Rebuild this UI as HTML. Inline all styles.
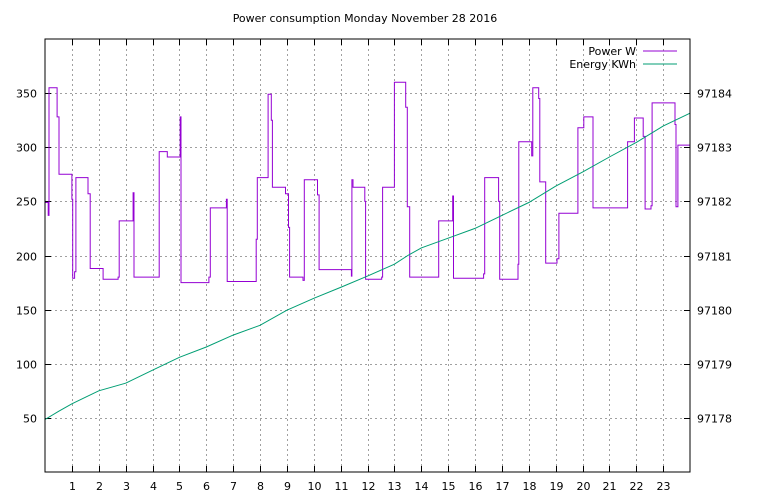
<!DOCTYPE html>
<html><head><meta charset="utf-8"><style>
html,body{margin:0;padding:0;background:#fff;}
svg{display:block;font-family:"DejaVu Sans","Liberation Sans",sans-serif;font-size:11px;}
</style></head><body>
<svg id="chart" width="768" height="500" viewBox="0 0 768 500" xmlns="http://www.w3.org/2000/svg">
<rect width="768" height="500" fill="#fff"/>
<text x="365" y="22" text-anchor="middle">Power consumption Monday November 28 2016</text>
<g id="grid"></g>
<g id="axes"></g>
<g id="series"></g>
<rect x="45" y="39" width="645" height="433" fill="none" stroke="#000" stroke-width="1"/>
<g>
<text x="636" y="55" text-anchor="end">Power W</text>
<line x1="643" y1="51" x2="677" y2="51" stroke="#9400d3" stroke-width="1"/>
<text x="636" y="68" text-anchor="end">Energy KWh</text>
<line x1="643" y1="64" x2="677" y2="64" stroke="#009e73" stroke-width="1"/>
</g>
</svg>
<script>
const xTicks = [1,2,3,4,5,6,7,8,9,10,11,12,13,14,15,16,17,18,19,20,21,22,23];
const yTicksLeft = [50,100,150,200,250,300,350];
const yTicksRight = [97178,97179,97180,97181,97182,97183,97184];
const powerHours  = [0,  0.12,0.15,0.45,0.52,1.0,1.03,1.1,1.15,1.6,1.68,2.16,2.72,2.76,3.28,3.31,4.25,4.55,5.03,5.06,6.1,6.15,6.75,6.78,7.86,7.9,8.3,8.42,8.46,8.95,9.06,9.1,9.6,9.65,10.14,10.2,11.4,11.42,11.46,11.9,11.93,12.53,12.56,13.0,13.42,13.48,13.57,14.65,15.17,15.2,16.32,16.36,16.88,16.92,17.6,17.63,18.11,18.15,18.37,18.41,18.63,19.05,19.12,19.83,20.05,20.39,21.68,21.93,22.26,22.33,22.55,22.59,23.44,23.48,23.55,24.0];
const powerValues = [249,237, 355, 328, 275, 252,179, 185,272, 257,188, 178, 180, 232, 258, 180, 296, 291, 328, 175, 180,244, 252, 176, 215, 272,349,325, 263, 257, 226, 180,177,270, 256,  187, 181, 270,  263,  250, 178,  180,  263,  360, 337,  245,  180,  232,  255,  179, 183,  272,  250,  178,  192, 305,  292,  355,  345,  268,  193,  197,  239,  318,  328,  244,  305,  327,  310,  243,  246,  341,  321,  245,  302,  302];
const energyHours = [0,0.5,1,1.5,2,3,4,5,6,7,8,9,10,11,12,13,13.5,14,15,16,17,18,19,20,21,22,23,24];
const energyValues = [97177.97,97178.12,97178.26,97178.38,97178.5,97178.64,97178.88,97179.12,97179.31,97179.53,97179.71,97179.99,97180.21,97180.41,97180.62,97180.84,97181.0,97181.14,97181.32,97181.5,97181.74,97181.98,97182.28,97182.54,97182.82,97183.09,97183.39,97183.63];

const L=45,R=690,T=39,B=472;
const xS=h=>L+h*(R-L)/24;
const yL=v=>B-v*(B-T)/400;
const yR=v=>B-(v-97177)*(B-T)/8;
const NS="http://www.w3.org/2000/svg";
function mk(tag,attrs,parent){const e=document.createElementNS(NS,tag);for(const k in attrs)e.setAttribute(k,attrs[k]);parent.appendChild(e);return e;}
const grid=document.getElementById('grid'),axes=document.getElementById('axes'),series=document.getElementById('series');
const dash={stroke:"#a0a0a0","stroke-width":1,"stroke-dasharray":"2,3"};
xTicks.forEach(h=>{
  const x=Math.round(xS(h))+0.5;
  const g=mk('line',Object.assign({x1:x,y1:T,x2:x,y2:B},dash),grid);
  
  
  const t1=mk('line',{x1:x,y1:B,x2:x,y2:B-6,stroke:"#000"},axes);
  
  
  const t2=mk('line',{x1:x,y1:T,x2:x,y2:T+6,stroke:"#000"},axes);
  
  
  const lb=mk('text',{x:x,y:490,"text-anchor":"middle"},axes);lb.textContent=h;
  
  
});
yTicksLeft.forEach(v=>{
  const y=Math.round(yL(v))+0.5;
  const g=mk('line',Object.assign({x1:L,y1:y,x2:R,y2:y},dash),grid);
  
  
  const t=mk('line',{x1:L,y1:y,x2:L+6,y2:y,stroke:"#000"},axes);
  
  
  const lb=mk('text',{x:37,y:y+4,"text-anchor":"end"},axes);lb.textContent=v;
  
  
});
yTicksRight.forEach(v=>{
  const y=Math.round(yR(v))+0.5;
  const t=mk('line',{x1:R,y1:y,x2:R-6,y2:y,stroke:"#000"},axes);
  
  
  const lb=mk('text',{x:697,y:y+4,"text-anchor":"start"},axes);lb.textContent=v;
  
  
});
let d="";
powerHours.forEach((h,i)=>{
  const x=xS(h).toFixed(1),y=yL(powerValues[i]).toFixed(1);
  if(i===0)d+="M"+x+","+y;else d+="H"+x+"V"+y;
});
const pp=mk('path',{d:d,fill:"none",stroke:"#9400d3","stroke-width":1},series);


let e="";
energyHours.forEach((h,i)=>{e+=(i?"L":"M")+xS(h).toFixed(1)+","+yR(energyValues[i]).toFixed(1);});
const ep=mk('path',{d:e,fill:"none",stroke:"#009e73","stroke-width":1},series);


</script>
</body></html>
